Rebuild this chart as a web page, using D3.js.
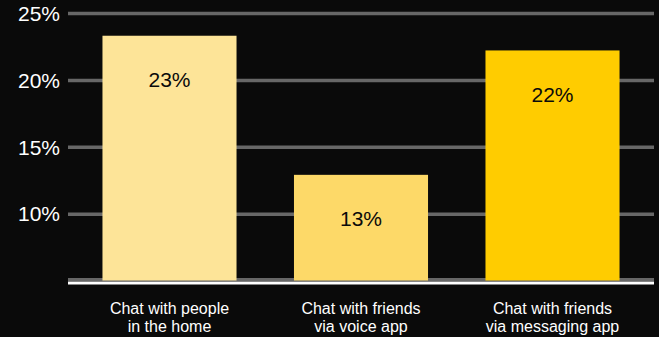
<!DOCTYPE html>
<html>
<head>
<meta charset="utf-8">
<script src="https://cdn.jsdelivr.net/npm/d3@7"></script>
<style>
  html, body { margin: 0; padding: 0; background: #0a0a0a; }
  svg { display: block; }
</style>
</head>
<body>
<svg id="chart" width="659" height="337"></svg>
<script>
// Share of respondents by activity
const categories = [
  ["Chat with people", "in the home"],
  ["Chat with friends", "via voice app"],
  ["Chat with friends", "via messaging app"]
];
const values = [23.3, 12.9, 22.2];
const barColors = ["#fde498", "#fdd968", "#ffcc00"];
const yTicks = [10, 15, 20, 25];

const width = 659, height = 337;
const margin = { left: 68, right: 5, top: 13, bottom: 56 };

const svg = d3.select("#chart");
svg.append("rect").attr("width", width).attr("height", height).attr("fill", "#0a0a0a");

const x = d3.scaleBand()
  .domain(d3.range(values.length))
  .range([margin.left, width - margin.right])
  .paddingInner(0.3)
  .paddingOuter(0.18);

const y = d3.scaleLinear()
  .domain([5, 25])
  .range([280.5, margin.top]);

const font = "'Liberation Sans', Arial, sans-serif";

// unlabelled gridline at the axis floor
svg.append("line")
  .attr("x1", margin.left)
  .attr("x2", width - margin.right)
  .attr("y1", y(5) - 1)
  .attr("y2", y(5) - 1)
  .attr("stroke", "#676767")
  .attr("stroke-width", 3);

// gridlines with tick labels
const yAxis = d3.axisLeft(y)
  .tickValues(yTicks)
  .tickSize(-(width - margin.right - margin.left))
  .tickPadding(8)
  .tickFormat(d => d + "%");

const gy = svg.append("g")
  .attr("transform", `translate(${margin.left},0)`)
  .call(yAxis);
gy.select(".domain").remove();
gy.selectAll(".tick line")
  .attr("stroke", "#676767")
  .attr("stroke-width", 3.5);
gy.selectAll(".tick text")
  .attr("fill", "#ffffff")
  .attr("font-family", font)
  .attr("font-size", 21)
  .attr("dy", "0.35em");

// bars
svg.append("g").selectAll("rect")
  .data(values)
  .join("rect")
  .attr("x", (d, i) => x(i))
  .attr("width", x.bandwidth())
  .attr("y", d => y(d))
  .attr("height", d => y(5) - y(d))
  .attr("fill", (d, i) => barColors[i]);

// value labels inside the bars
svg.append("g").selectAll("text")
  .data(values)
  .join("text")
  .attr("x", (d, i) => x(i) + x.bandwidth() / 2)
  .attr("y", d => y(d) + 44)
  .attr("dy", "0.35em")
  .attr("text-anchor", "middle")
  .attr("fill", "#0a0a0a")
  .attr("font-family", font)
  .attr("font-size", 21)
  .text(d => Math.round(d) + "%");

// baseline
svg.append("line")
  .attr("x1", margin.left)
  .attr("x2", width - margin.right)
  .attr("y1", y(5) + 2.5)
  .attr("y2", y(5) + 2.5)
  .attr("stroke", "#ffffff")
  .attr("stroke-width", 3);

// category labels
const cat = svg.append("g").selectAll("text")
  .data(categories)
  .join("text")
  .attr("x", (d, i) => x(i) + x.bandwidth() / 2)
  .attr("y", 314)
  .attr("text-anchor", "middle")
  .attr("fill", "#ffffff")
  .attr("font-family", font)
  .attr("font-size", 16);
cat.selectAll("tspan")
  .data(d => d)
  .join("tspan")
  .attr("x", function () { return d3.select(this.parentNode).attr("x"); })
  .attr("dy", (d, i) => i === 0 ? 0 : 17.7)
  .text(d => d);
</script>
</body>
</html>
